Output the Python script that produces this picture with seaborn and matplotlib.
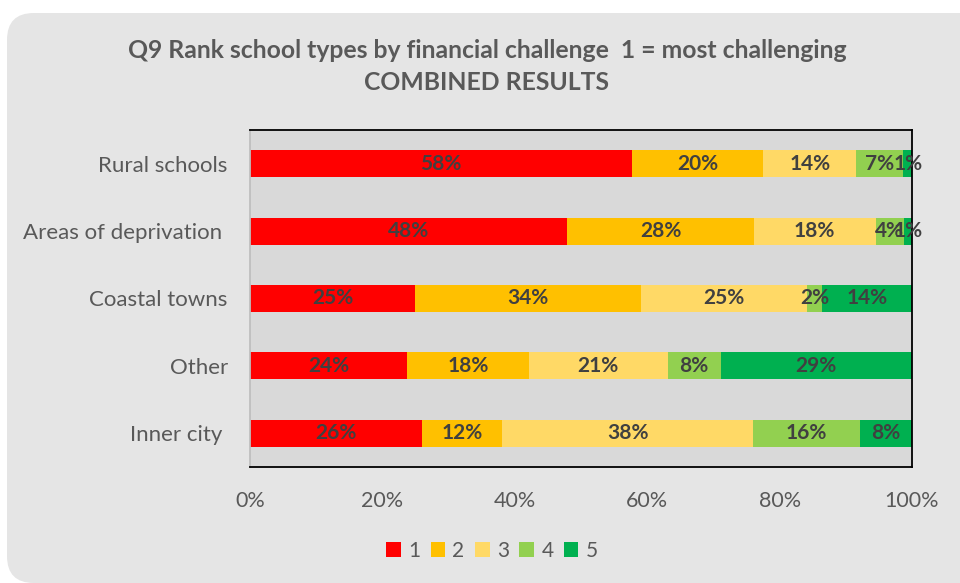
import matplotlib
matplotlib.use("Agg")
import matplotlib.pyplot as plt
from matplotlib.patches import FancyBboxPatch, Patch
import numpy as np
import pandas as pd
import seaborn as sns

# Survey results: share of respondents giving each rank (1 = most challenging)
categories = ["Rural schools", "Areas of deprivation ", "Coastal towns", "Other", "Inner city "]
rank_1 = [57.7, 47.9, 24.9, 23.7, 26.0]
rank_2 = [19.8, 28.2, 34.2, 18.4, 12.1]
rank_3 = [14.1, 18.4, 25.0, 21.0, 37.9]
rank_4 = [7.1, 4.3, 2.3, 8.0, 16.1]
rank_5 = [1.3, 1.2, 13.6, 28.9, 7.9]
rank_names = ["1", "2", "3", "4", "5"]
x_ticks = [0, 20, 40, 60, 80, 100]
x_tick_labels = ["0%", "20%", "40%", "60%", "80%", "100%"]

colors = ["#FF0000", "#FFC000", "#FFD966", "#92D050", "#00B050"]
text_grey = "#595959"
label_grey = "#404040"

sns.set_theme(style="white")
plt.rcParams["font.family"] = ["Lato", "DejaVu Sans"]

series = np.array([rank_1, rank_2, rank_3, rank_4, rank_5])
cum = np.cumsum(series, axis=0)
df = pd.DataFrame({"category": categories})
for i, name in enumerate(rank_names):
    df["cum_" + name] = cum[i]

fig = plt.figure(figsize=(9.6, 5.83), dpi=100)
fig.patch.set_facecolor("white")

# rounded card behind the chart
W, H = 960, 583
card = FancyBboxPatch((7 / W, 0.0), 1.2, 1 - 13 / H,
                      boxstyle="round,pad=0,rounding_size=0.028",
                      transform=fig.transFigure, facecolor="#E5E5E5",
                      edgecolor="none", mutation_aspect=W / H, zorder=-5)
fig.patches.append(card)

ax = fig.add_axes([250 / W, 1 - 467 / H, (912 - 250) / W, (467 - 130) / H])
ax.set_zorder(2)
ax.set_facecolor("#D9D9D9")

# stacked bars: draw cumulative totals from the last rank back to the first
for i in range(len(rank_names) - 1, -1, -1):
    sns.barplot(data=df, x="cum_" + rank_names[i], y="category", color=colors[i],
                orient="h", width=0.4, saturation=1, ax=ax, linewidth=0)

# value labels centred in each segment
for i in range(len(rank_names)):
    starts = cum[i] - series[i]
    for j, v in enumerate(series[i]):
        ax.text(starts[j] + v / 2, j, f"{v:.0f}%", ha="center", va="center",
                fontsize=15, fontweight="bold", color=label_grey)

ax.set_xlim(0, 100)
ax.set_ylim(4.5, -0.5)
ax.set_xticks(x_ticks)
ax.set_xticklabels(x_tick_labels)
ax.set_xlabel("")
ax.set_ylabel("")
ax.tick_params(axis="x", length=0, pad=17, labelsize=15.5, labelcolor=text_grey)
ax.tick_params(axis="y", length=0, pad=16, labelsize=16, labelcolor=text_grey)
for s in ["top", "right", "bottom"]:
    ax.spines[s].set_visible(True)
    ax.spines[s].set_color("black")
    ax.spines[s].set_linewidth(1.3)
ax.spines["left"].set_color("#BFBFBF")
ax.spines["left"].set_linewidth(1.3)

fig.text(487 / W, 1 - 51 / H, "Q9 Rank school types by financial challenge  1 = most challenging",
         ha="center", va="center", fontsize=17.8, fontweight="bold", color=text_grey)
fig.text(487 / W, 1 - 83 / H, "COMBINED RESULTS",
         ha="center", va="center", fontsize=17.8, fontweight="bold", color=text_grey)

handles = [Patch(facecolor=c, edgecolor="none") for c in colors]
fig.legend(handles, rank_names, loc="center", bbox_to_anchor=(492 / W, 1 - 551 / H),
           ncol=5, frameon=False, fontsize=15, labelcolor=text_grey,
           handlelength=0.7, handleheight=0.7, handletextpad=0.35, columnspacing=0.5)

fig.savefig("out.png", dpi=100, facecolor="white")
